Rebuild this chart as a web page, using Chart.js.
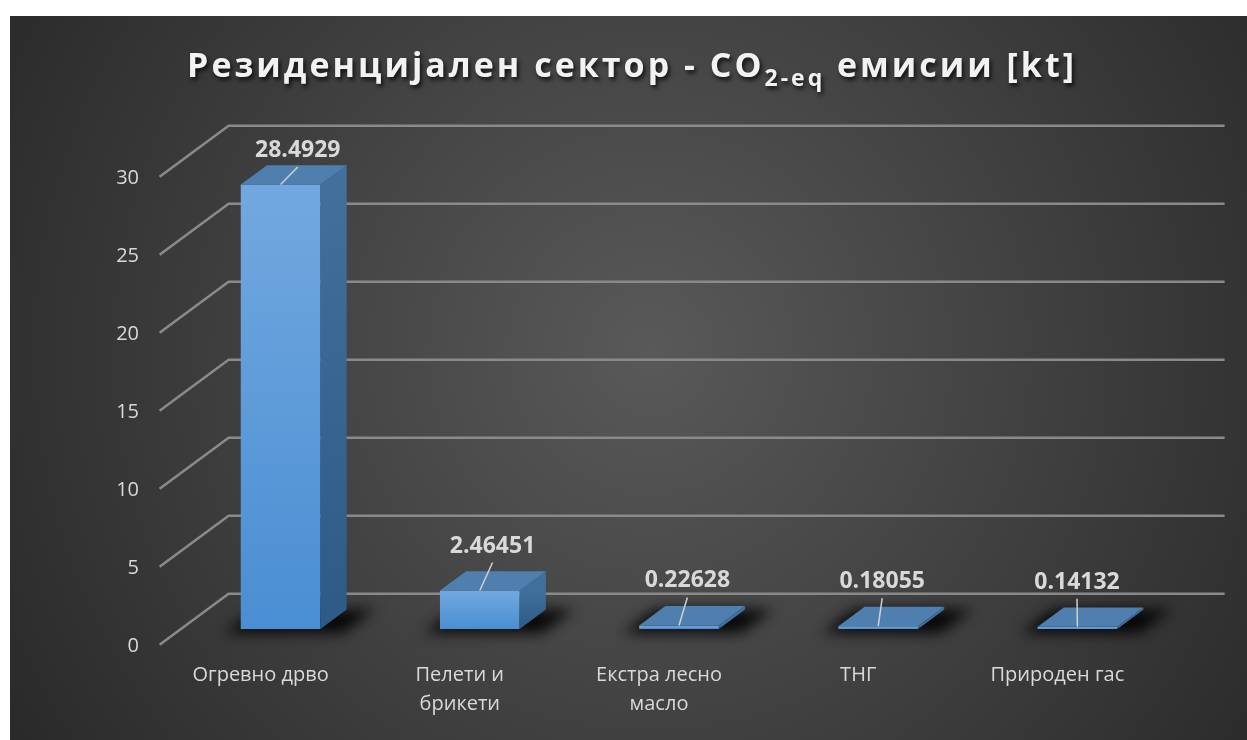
<!DOCTYPE html>
<html>
<head>
<meta charset="utf-8">
<script src="https://cdn.jsdelivr.net/npm/chart.js@4.4.1/dist/chart.umd.min.js"></script>
<style>
  html, body { margin: 0; padding: 0; background: #ffffff; }
  #wrap { width: 1247px; height: 740px; }
</style>
</head>
<body>
<div id="wrap"><canvas id="co2Chart" width="1247" height="740"></canvas></div>
<script>
// fuel types and their CO2-eq emissions [kt]
const categories = [['Огревно дрво'], ['Пелети и', 'брикети'], ['Екстра лесно', 'масло'], ['ТНГ'], ['Природен гас']];
const emissions = [28.4929, 2.46451, 0.22628, 0.18055, 0.14132];
const yTicks = [0, 5, 10, 15, 20, 25, 30];

const FONT = '"Open Sans", "DejaVu Sans", sans-serif';
const TEXT = '#d9d9d9';

// fake 3D: depth of the whole floor and where the bars sit in it
const DEPTH_X = 69, DEPTH_Y = 51;
const BAR_FRONT = 0.31, BAR_BACK = 0.69;

function depthOffset(d) {
    return [(d - BAR_FRONT) * DEPTH_X, -(d - BAR_FRONT) * DEPTH_Y];
}

const backdrop = {
    id: 'backdrop',
    beforeDraw(chart) {
        const ctx = chart.ctx;
        ctx.save();
        ctx.fillStyle = '#ffffff';
        ctx.fillRect(0, 0, chart.width, chart.height);
        const g = ctx.createRadialGradient(650, 350, 0, 650, 350, 820);
        g.addColorStop(0, '#595959');
        g.addColorStop(1, '#252525');
        ctx.fillStyle = g;
        ctx.fillRect(10, 16, chart.width - 10, chart.height - 16);
        ctx.restore();
    }
};

const chartTitle = {
    id: 'chartTitle',
    afterDraw(chart) {
        const ctx = chart.ctx;
        const main1 = 'Резиденцијален сектор - CO';
        const sub = '2-eq';
        const main2 = ' емисии [kt]';
        ctx.save();
        ctx.letterSpacing = '3px';
        ctx.font = 'bold 34px ' + FONT;
        const w1 = ctx.measureText(main1).width;
        const w2 = ctx.measureText(main2).width;
        ctx.font = 'bold 23px ' + FONT;
        const ws = ctx.measureText(sub).width;
        let x = 632 - (w1 + ws + w2) / 2;
        const base = 77;
        ctx.fillStyle = '#f2f2f2';
        ctx.shadowColor = 'rgba(0,0,0,0.75)';
        ctx.shadowOffsetX = 2;
        ctx.shadowOffsetY = 3;
        ctx.shadowBlur = 4;
        ctx.textBaseline = 'alphabetic';
        ctx.font = 'bold 34px ' + FONT;
        ctx.fillText(main1, x, base);
        x += w1;
        ctx.font = 'bold 23px ' + FONT;
        ctx.fillText(sub, x, base + 9);
        x += ws;
        ctx.font = 'bold 34px ' + FONT;
        ctx.fillText(main2, x, base);
        ctx.restore();
    }
};

const walls = {
    id: 'walls',
    beforeDatasetsDraw(chart) {
        const ctx = chart.ctx;
        const y = chart.scales.y;
        const area = chart.chartArea;
        const [fx, fy] = depthOffset(0);
        const [bx, by] = depthOffset(1);
        ctx.save();
        ctx.strokeStyle = '#8a8a8a';
        ctx.lineWidth = 2.5;
        yTicks.forEach(v => {
            const py = y.getPixelForValue(v);
            ctx.beginPath();
            ctx.moveTo(area.left + fx, py + fy);
            ctx.lineTo(area.left + bx, py + by);
            ctx.lineTo(area.right + bx, py + by);
            ctx.stroke();
        });

        // soft shadows on the floor around each bar
        const meta = chart.getDatasetMeta(0);
        const [sx, sy] = depthOffset(BAR_BACK);
        ctx.filter = 'blur(7px)';
        ctx.fillStyle = 'rgba(0,0,0,0.9)';
        meta.data.forEach(bar => {
            const x0 = bar.x - bar.width / 2 - 16;
            const x1 = bar.x + bar.width / 2 + 22;
            const b = bar.base + 4;
            ctx.beginPath();
            ctx.moveTo(x0, b);
            ctx.lineTo(x1, b);
            ctx.lineTo(x1 + sx + 6, b + sy - 4);
            ctx.lineTo(x0 + sx + 6, b + sy - 4);
            ctx.closePath();
            ctx.fill();
        });
        ctx.restore();
    }
};

const boxes = {
    id: 'boxes',
    afterDatasetsDraw(chart) {
        const ctx = chart.ctx;
        const area = chart.chartArea;
        const meta = chart.getDatasetMeta(0);
        const [dx, dy] = depthOffset(BAR_BACK);
        ctx.save();
        meta.data.forEach((bar, i) => {
            const x0 = bar.x - bar.width / 2;
            const x1 = bar.x + bar.width / 2;
            const top = bar.y;
            const base = bar.base;

            // right side face
            const sg = ctx.createLinearGradient(0, top, 0, base);
            sg.addColorStop(0, '#41709d');
            sg.addColorStop(1, '#2d5a87');
            ctx.fillStyle = sg;
            ctx.beginPath();
            ctx.moveTo(x1, top);
            ctx.lineTo(x1 + dx, top + dy);
            ctx.lineTo(x1 + dx, base + dy);
            ctx.lineTo(x1, base);
            ctx.closePath();
            ctx.fill();

            // top face
            ctx.fillStyle = '#4f7fae';
            ctx.beginPath();
            ctx.moveTo(x0, top);
            ctx.lineTo(x1, top);
            ctx.lineTo(x1 + dx, top + dy);
            ctx.lineTo(x0 + dx, top + dy);
            ctx.closePath();
            ctx.fill();

            // value label with a leader line down to the bar
            const lx = bar.x + (1060 - bar.x) * 0.022;
            const ly = Math.max(top - 38, area.top - 4);
            ctx.strokeStyle = '#d0d0d0';
            ctx.lineWidth = 1.5;
            ctx.beginPath();
            ctx.moveTo(lx, ly + 10);
            ctx.lineTo(bar.x, top);
            ctx.stroke();

            ctx.fillStyle = TEXT;
            ctx.font = 'bold 23px ' + FONT;
            ctx.textAlign = 'center';
            ctx.textBaseline = 'alphabetic';
            ctx.fillText(String(emissions[i]), lx, ly);
        });
        ctx.restore();
    }
};

function frontFace(context) {
    const chart = context.chart;
    const y = chart.scales.y;
    if (!chart.chartArea || !y) return '#5b9bd5';
    const v = emissions[context.dataIndex];
    const top = y.getPixelForValue(v);
    const base = y.getPixelForValue(0);
    if (!isFinite(top) || !isFinite(base) || base - top < 1) return '#5b9bd5';
    const g = chart.ctx.createLinearGradient(0, top, 0, base);
    g.addColorStop(0, '#72a8df');
    g.addColorStop(1, '#4a8ed3');
    return g;
}

new Chart(document.getElementById('co2Chart'), {
    type: 'bar',
    data: {
        labels: categories,
        datasets: [{
            data: emissions,
            backgroundColor: frontFace,
            borderWidth: 0,
            categoryPercentage: 1,
            barPercentage: 0.4
        }]
    },
    options: {
        responsive: false,
        animation: false,
        devicePixelRatio: 1,
        layout: { padding: { left: 0, top: 161, right: 70, bottom: 0 } },
        plugins: {
            legend: { display: false },
            tooltip: { enabled: false },
            title: { display: false }
        },
        scales: {
            x: {
                grid: { display: false, drawTicks: false },
                border: { display: false },
                ticks: {
                    color: TEXT,
                    font: { family: FONT, size: 20, lineHeight: 1.45 },
                    padding: 32,
                    labelOffset: -20,
                    maxRotation: 0,
                    autoSkip: false
                },
                afterFit(scale) { scale.height = 111; }
            },
            y: {
                min: 0,
                max: 30,
                grid: { display: false, drawTicks: false },
                border: { display: false },
                ticks: {
                    color: TEXT,
                    font: { family: FONT, size: 20 },
                    padding: 42,
                    labelOffset: 17
                },
                afterBuildTicks(scale) { scale.ticks = yTicks.map(v => ({ value: v })); },
                afterFit(scale) { scale.width = 181; }
            }
        }
    },
    plugins: [backdrop, walls, boxes, chartTitle]
});
</script>
</body>
</html>
